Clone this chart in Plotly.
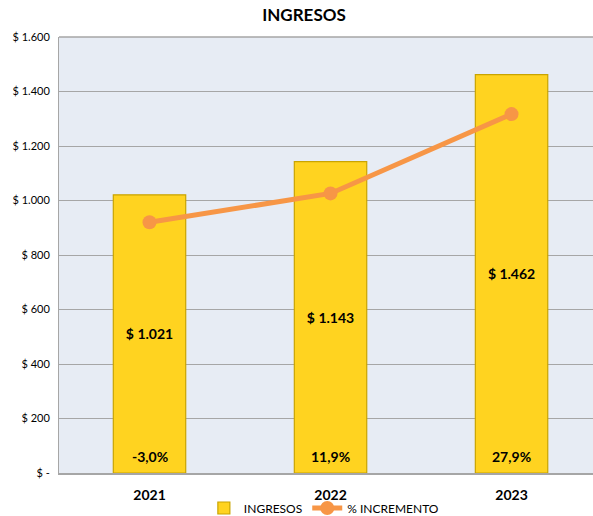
import plotly.graph_objects as go

years = ["2021", "2022", "2023"]
ingresos = [1021, 1143, 1462]
ingresos_labels = ["$ 1.021", "$ 1.143", "$ 1.462"]
incremento_pct_labels = ["-3,0%", "11,9%", "27,9%"]
# % INCREMENTO line as drawn (read on the left-axis scale)
incremento_line = [920, 1026, 1317]
y_tickvals = [0, 200, 400, 600, 800, 1000, 1200, 1400, 1600]
y_ticktext = ["$ -", "$ 200", "$ 400", "$ 600", "$ 800", "$ 1.000", "$ 1.200", "$ 1.400", "$ 1.600"]

FONT = "Lato"
fig = go.Figure()
fig.add_trace(go.Bar(
    x=years, y=ingresos, name="INGRESOS",
    width=0.4,
    marker=dict(color="#FFD320", line=dict(color="#C9A400", width=1.2)),
    text=[f"<b>{t}</b>" for t in ingresos_labels],
    textposition="inside", insidetextanchor="middle",
    textfont=dict(family=FONT, size=14, color="#000000"),
))
fig.add_trace(go.Scatter(
    x=years, y=incremento_line, name="% INCREMENTO",
    mode="lines+markers",
    line=dict(color="#F79646", width=5),
    marker=dict(color="#F79646", size=14),
))
for i, lab in enumerate(incremento_pct_labels):
    fig.add_annotation(x=i, y=0, xref="x", yref="y", text=f"<b>{lab}</b>", showarrow=False,
                       yanchor="bottom", yshift=6,
                       font=dict(family=FONT, size=14, color="#000000"))

fig.update_layout(
    width=593, height=516,
    margin=dict(l=59, r=0, t=37, b=43, autoexpand=False),
    paper_bgcolor="#FFFFFF", plot_bgcolor="#E7ECF4",
    title=dict(text="<b>INGRESOS</b>", x=304/593, xanchor="center", xref="container",
               y=1 - 15/516, yanchor="middle",
               font=dict(family=FONT, size=17, color="#000000")),
    showlegend=True,
    legend=dict(orientation="h", x=0.496, xanchor="center",
                yref="container", y=1 - 508/516, yanchor="middle",
                font=dict(family=FONT, size=12, color="#000000"),
                bgcolor="rgba(0,0,0,0)", itemwidth=30, tracegroupgap=0),
    font=dict(family=FONT, color="#000000"),
)
fig.update_xaxes(type="category", range=[-0.5, 2.45], showgrid=False, showline=True,
                 linecolor="#A6A6A6", automargin=False,
                 linewidth=1.5, ticks="", tickfont=dict(family=FONT, size=14, color="#000000"),
                 tickprefix="<b>", ticksuffix="</b>", ticklabelstandoff=8, fixedrange=True)
fig.update_yaxes(range=[0, 1600], tickvals=y_tickvals, ticktext=y_ticktext, automargin=False,
                 showgrid=True, gridcolor="#A6A6A6", gridwidth=1,
                 showline=True, linecolor="#A6A6A6", linewidth=1, mirror=False,
                 zeroline=False, ticks="", ticklabelstandoff=6,
                 tickfont=dict(family=FONT, size=11, color="#000000"))
fig.add_shape(type="line", xref="paper", yref="paper", x0=0, x1=1, y0=1, y1=1,
              line=dict(color="#A6A6A6", width=1.5))
fig.write_html("out.html", config={"displayModeBar": False},
               post_script="document.body.style.margin='0px';")
